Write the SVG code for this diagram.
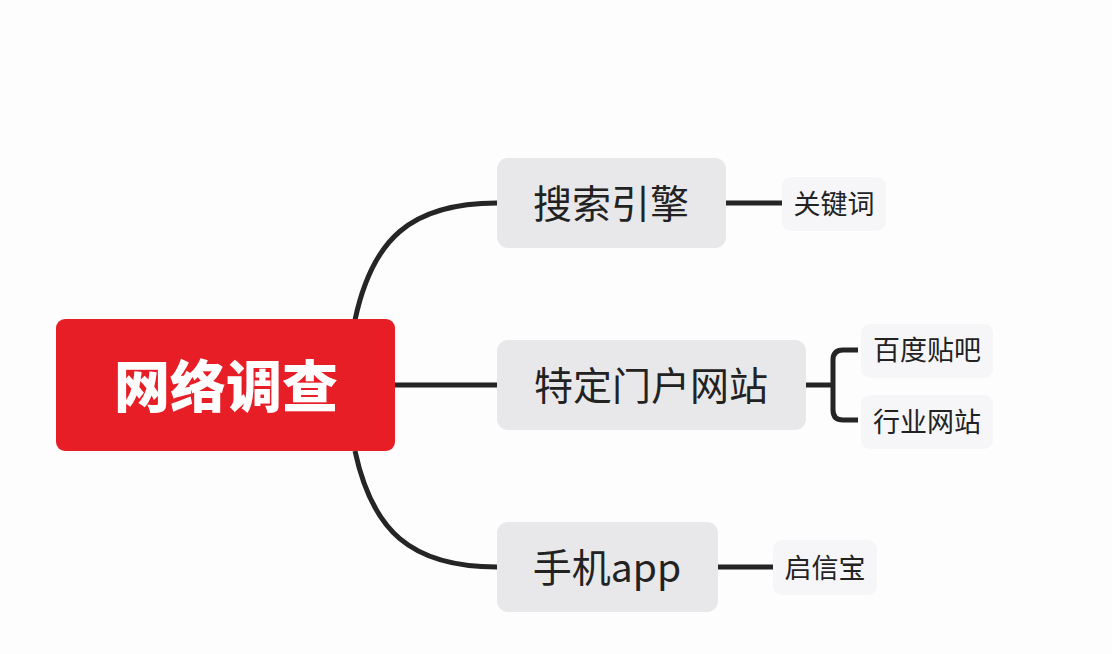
<svg xmlns="http://www.w3.org/2000/svg" width="1112" height="654" viewBox="0 0 1112 654">
<style>
.bg{fill:#fdfdfd}
.l1{fill:#e8e8ea}
.l2{fill:#f6f6f8}
.c{fill:none;stroke:#252525;stroke-width:5;stroke-linecap:butt}
.t1{font-family:"Noto Sans CJK SC","Noto Sans",sans-serif;font-size:39px;fill:#222;text-anchor:middle;dominant-baseline:central}
.t2{font-family:"Noto Sans CJK SC","Noto Sans",sans-serif;font-size:27px;fill:#222;text-anchor:middle;dominant-baseline:central}
.t0{font-family:"Noto Sans CJK SC","Noto Sans",sans-serif;font-size:56px;font-weight:900;fill:#fff;text-anchor:middle;dominant-baseline:central}
</style>
<rect class="bg" x="0" y="0" width="1112" height="654"/>
<g id="connectors">
<path class="c" d="M355,320 C372,240 410,203 497,203"/>
<path class="c" d="M395,385 L497,385"/>
<path class="c" d="M355,451 C372,530 410,567 497,567"/>
<path class="c" d="M726,203 L782,203"/>
<path class="c" d="M718,567 L773,567"/>
<path class="c" d="M806,385 L833,385"/>
<path class="c" d="M858,350 L843,350 Q833,350 833,360 L833,410 Q833,420 843,420 L858,420"/>
</g>
<g id="root">
<rect x="56" y="319" width="339" height="132" rx="9" fill="#e81e26"/>
<text class="t0" x="226" y="382">网络调查</text>
</g>
<g id="n-search">
<rect class="l1" x="497" y="158" width="229" height="90" rx="11"/>
<text class="t1" x="611" y="201">搜索引擎</text>
</g>
<g id="n-keyword">
<rect class="l2" x="782" y="177" width="104" height="54" rx="9"/>
<text class="t2" x="834" y="202">关键词</text>
</g>
<g id="n-portal">
<rect class="l1" x="497" y="340" width="309" height="90" rx="11"/>
<text class="t1" x="651" y="383">特定门户网站</text>
</g>
<g id="n-tieba">
<rect class="l2" x="861" y="324" width="132" height="54" rx="9"/>
<text class="t2" x="927" y="348">百度贴吧</text>
</g>
<g id="n-industry">
<rect class="l2" x="861" y="395" width="132" height="54" rx="9"/>
<text class="t2" x="927" y="420">行业网站</text>
</g>
<g id="n-app">
<rect class="l1" x="497" y="522" width="221" height="90" rx="11"/>
<text class="t1" x="607" y="565">手机app</text>
</g>
<g id="n-qxb">
<rect class="l2" x="773" y="540" width="104" height="55" rx="9"/>
<text class="t2" x="825" y="566">启信宝</text>
</g>
</svg>
